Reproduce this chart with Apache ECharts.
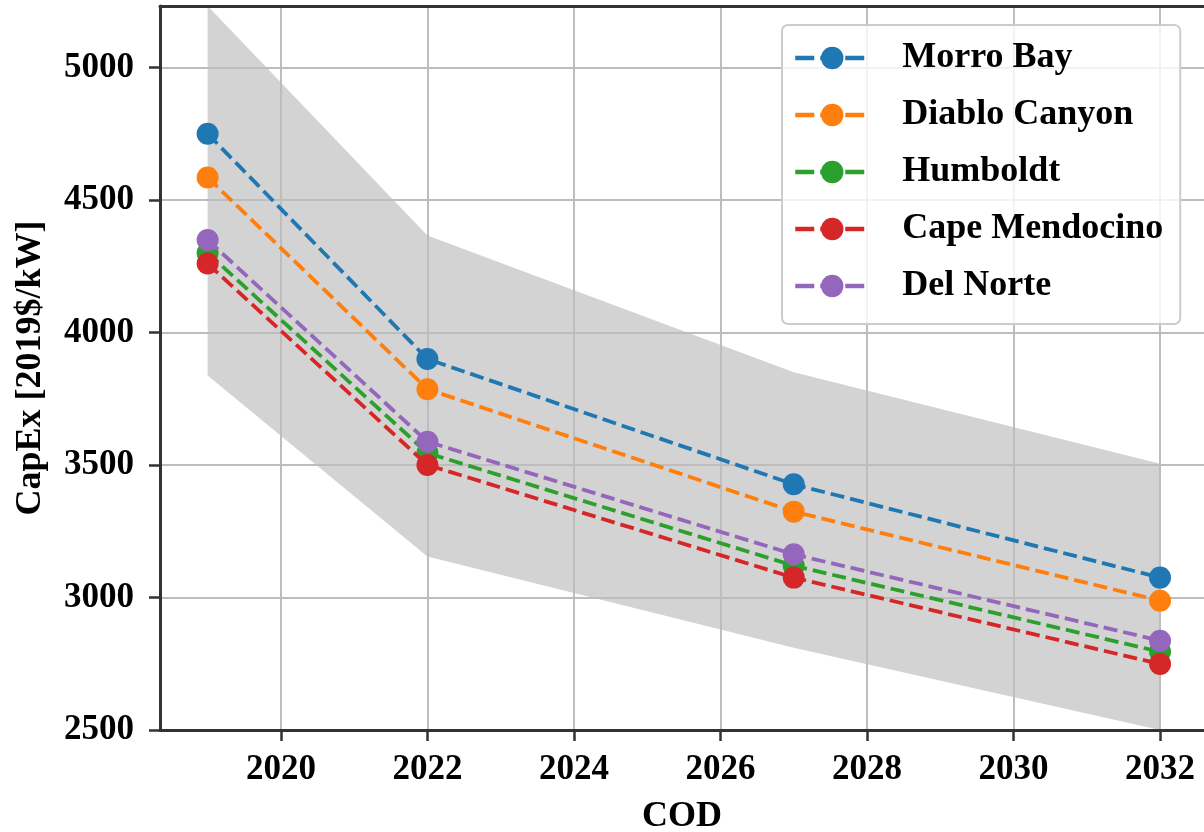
<!DOCTYPE html>
<html>
<head>
<meta charset="utf-8">
<script src="https://cdn.jsdelivr.net/npm/echarts@6/dist/echarts.min.js"></script>
<style>
html,body{margin:0;padding:0;background:#fff;}
#chart{width:1204px;height:832px;}
</style>
</head>
<body>
<div id="chart"></div>
<script>
// ---- data ----
const years = [2019, 2022, 2027, 2032];
const morroBay = [4750, 3900, 3427, 3075];
const diabloCanyon = [4585, 3786, 3324, 2988];
const humboldt = [4300, 3545, 3120, 2795];
const capeMendocino = [4260, 3500, 3075, 2749];
const delNorte = [4349, 3588, 3163, 2837];
const bandUpper = [5232, 4366, 3850, 3505];
const bandLower = [3838, 3155, 2810, 2500];
const xTicks = [2020, 2022, 2024, 2026, 2028, 2030, 2032];
const seriesNames = ['Morro Bay', 'Diablo Canyon', 'Humboldt', 'Cape Mendocino', 'Del Norte'];
const seriesValues = [morroBay, diabloCanyon, humboldt, capeMendocino, delNorte];
const colors = ['#1f77b4', '#ff7f0e', '#2ca02c', '#d62728', '#9467bd'];

const FONT = '"Liberation Serif", "Times New Roman", serif';
const chart = echarts.init(document.getElementById('chart'), null, {renderer: 'canvas'});

const xMin = 2018.35, xMax = 2032.6;

const lineSeries = seriesNames.map((name, i) => ({
  name: name,
  type: 'line',
  data: years.map((y, j) => [y, seriesValues[i][j]]),
  symbol: 'circle',
  symbolSize: 22,
  itemStyle: {color: colors[i]},
  lineStyle: {color: colors[i], width: 3.8, type: [14, 6]},
  z: 3 + i,
  animation: false
}));

const bandSeries = {
  name: 'band',
  type: 'custom',
  data: years.map((y, j) => [y, bandLower[j], bandUpper[j]]),
  z: -1,
  silent: true,
  animation: false,
  renderItem: function (params, api) {
    if (params.dataIndex !== 0) return null;
    const pts = [];
    for (let j = 0; j < years.length; j++) pts.push(api.coord([years[j], bandUpper[j]]));
    for (let j = years.length - 1; j >= 0; j--) pts.push(api.coord([years[j], bandLower[j]]));
    return {
      type: 'polygon',
      shape: {points: pts},
      style: {fill: '#d3d3d3', stroke: null}
    };
  }
};

const option = {
  backgroundColor: '#ffffff',
  animation: false,
  grid: {left: 160, top: 6, right: 0, bottom: 102, containLabel: false, outerBoundsMode: 'none'},
  xAxis: [{
    type: 'value',
    min: xMin,
    max: xMax,
    name: 'COD',
    nameLocation: 'middle',
    nameGap: 69,
    nameTextStyle: {fontFamily: FONT, fontWeight: 'bold', fontSize: 36, color: '#000'},
    axisLine: {show: true, onZero: false, lineStyle: {color: '#333', width: 3}},
    axisTick: {show: true, customValues: xTicks, length: 11, lineStyle: {color: '#333', width: 2.5}},
    axisLabel: {customValues: xTicks, margin: 22, fontFamily: FONT, fontWeight: 'bold', fontSize: 35, color: '#000',
      formatter: v => String(Math.round(v))},
    splitLine: {show: true, lineStyle: {color: '#bdbdbd', width: 2}}
  }, {
    type: 'value',
    position: 'top',
    min: xMin,
    max: xMax,
    axisLine: {show: true, onZero: false, lineStyle: {color: '#333', width: 3}},
    axisTick: {show: false},
    axisLabel: {show: false},
    splitLine: {show: false}
  }],
  yAxis: {
    type: 'value',
    min: 2500,
    max: 5232,
    interval: 500,
    name: 'CapEx [2019$/kW]',
    nameLocation: 'middle',
    nameGap: 111,
    nameTextStyle: {fontFamily: FONT, fontWeight: 'bold', fontSize: 36, color: '#000'},
    axisLine: {show: true, onZero: false, lineStyle: {color: '#333', width: 3}},
    axisTick: {show: true, length: 11, lineStyle: {color: '#333', width: 2.5}},
    axisLabel: {margin: 26, fontFamily: FONT, fontWeight: 'bold', fontSize: 35, color: '#000',
      showMaxLabel: false, formatter: v => String(Math.round(v))},
    splitLine: {show: true, lineStyle: {color: '#bdbdbd', width: 2}}
  },
  legend: {
    data: seriesNames,
    left: 782,
    top: 25,
    orient: 'vertical',
    itemWidth: 74,
    itemHeight: 28,
    itemGap: 21,
    padding: [15, 17, 20, 11],
    backgroundColor: 'rgba(255,255,255,0.8)',
    borderColor: '#cccccc',
    borderWidth: 2,
    borderRadius: 6,
    lineStyle: {width: 4.5, type: [19, 6]},
    textStyle: {fontFamily: FONT, fontWeight: 'bold', fontSize: 36, color: '#000', padding: [0, 0, 0, 28]}
  },
  series: [bandSeries].concat(lineSeries)
};
chart.setOption(option);
</script>
</body>
</html>
